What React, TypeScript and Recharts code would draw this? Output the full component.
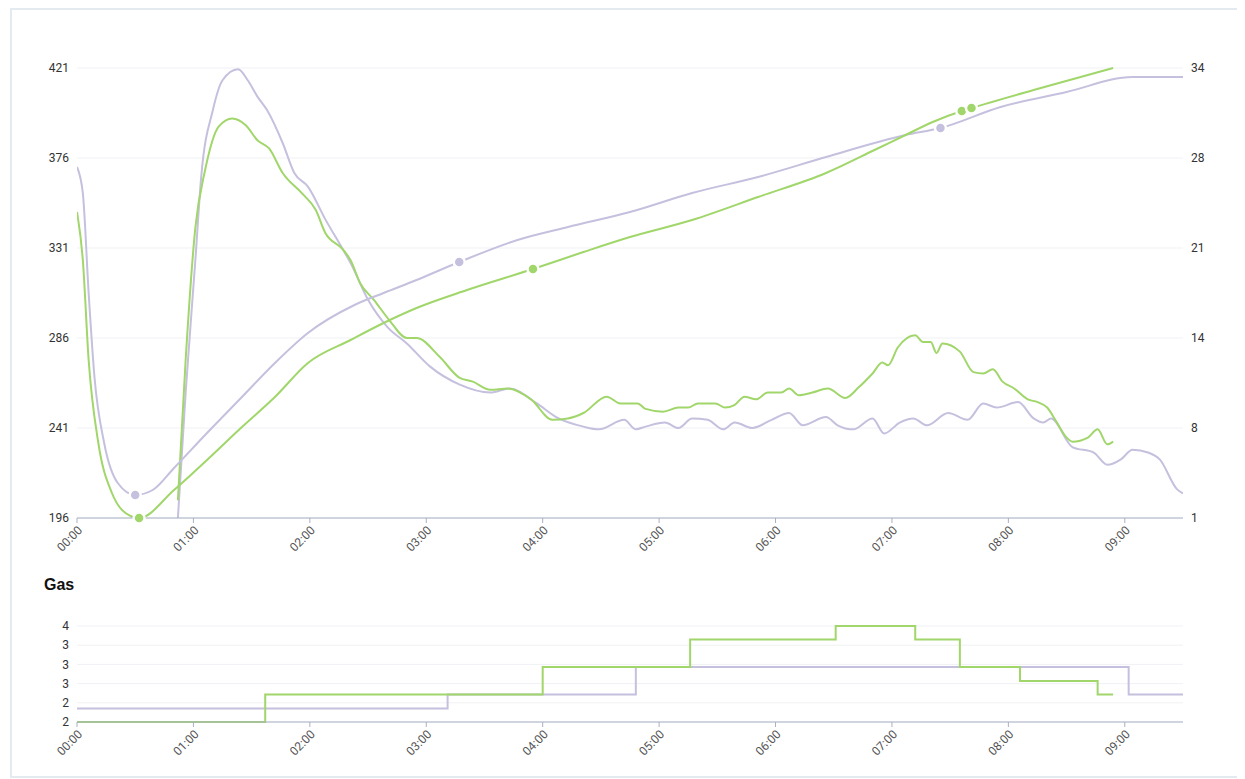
import React from "react";
import { LineChart, Line, XAxis, YAxis, CartesianGrid } from "recharts";

// time axis in minutes from 00:00
const xTicks = [0, 60, 120, 180, 240, 300, 360, 420, 480, 540];
const leftTicks = [196, 241, 286, 331, 376, 421];
const rightTicks = [1, 7.6, 14.2, 20.8, 27.4, 34];
const rightTickLabels = ["1", "8", "14", "21", "28", "34"];
const gasTicks = [2, 2.3, 2.6, 2.9, 3.2, 3.5];

// [minute, value] — left axis
const purpleRise = [
  [0, 371.5], [3, 358.5], [6, 308.5], [9, 266.5], [14, 233.5], [21, 213.5], [30, 207.5],
  [39, 210], [50, 221], [67, 238.5], [85, 256.5], [102, 273.5], [119, 288.5], [143, 302.5],
  [158, 308.5], [175, 315], [197, 324], [227, 335], [253, 341.5], [285, 349], [317, 358.5],
  [351, 366.5], [386, 376.5], [427, 387.5], [445, 391], [476, 401.5], [510, 409], [544, 416.5],
  [570, 416.5],
];
const greenRise = [
  [0, 349], [3, 325], [6, 275], [11, 233.5], [18, 208.5], [25, 198.5], [32, 196], [50, 210],
  [67, 225], [85, 241.5], [102, 256.5], [119, 273.5], [141, 285], [158, 293.5], [175, 301],
  [201, 310], [235, 320.5], [261, 329], [285, 336.5], [317, 345], [351, 356.5], [386, 368.5],
  [411, 380], [427, 387.5], [441, 394], [456, 399.5], [461, 401], [493, 410], [534, 421],
];
const purpleMarks = [30, 197, 445];
const greenMarks = [32, 235, 456, 461];

// [minute, value] — right axis
const purplePeak = [
  [52, 1], [56, 10.2], [61, 19.9], [64, 26], [70, 30.9], [75, 33.1], [83, 33.9], [88, 33.1],
  [93, 31.9], [98, 30.9], [106, 28.5], [112, 26.3], [119, 25.3], [128, 22.9], [137, 20.7],
  [141, 19.7], [150, 17], [160, 15], [170, 13.8], [182, 12.1], [197, 10.8], [213, 10.2],
  [223, 10.5], [237, 9.4], [247, 8.4], [261, 7.7], [269, 7.5], [282, 8.2], [288, 7.5],
  [293, 7.7], [303, 8.0], [310, 7.6], [317, 8.3], [325, 8.2], [333, 7.5], [339, 8.0],
  [348, 7.6], [358, 8.2], [367, 8.7], [374, 7.8], [386, 8.4], [392, 7.8], [400, 7.5],
  [410, 8.3], [416, 7.2], [424, 8.0], [431, 8.3], [438, 7.8], [449, 8.7], [459, 8.2],
  [467, 9.4], [474, 9.1], [485, 9.5], [493, 8.3], [498, 8.0], [502, 8.3], [513, 6.2],
  [524, 5.8], [531, 4.9], [538, 5.3], [544, 6.0], [552, 5.8], [558, 5.3], [567, 3.1], [570, 2.8],
];
const greenPeak = [
  [52, 2.3], [56, 12.6], [61, 22.3], [66, 26.5], [73, 29.7], [80, 30.3], [87, 29.8], [93, 28.7],
  [99, 28.1], [106, 26.3], [116, 24.8], [123, 23.6], [128, 21.9], [137, 20.7], [141, 19.9],
  [146, 18.2], [153, 17], [161, 15.5], [170, 14.2], [175, 14.2], [187, 12.8], [197, 11.3],
  [204, 11], [213, 10.4], [222, 10.5], [234, 9.7], [245, 8.2], [253, 8.3], [261, 8.7],
  [273, 9.9], [280, 9.4], [289, 9.4], [293, 9], [302, 8.8], [310, 9.1], [315, 9.1], [320, 9.4],
  [329, 9.4], [334, 9.1], [339, 9.3], [344, 9.9], [350, 9.7], [356, 10.2], [363, 10.2],
  [367, 10.5], [372, 10], [379, 10.2], [387, 10.5], [396, 9.8], [403, 10.6], [410, 11.6],
  [415, 12.4], [418, 12.2], [423, 13.5], [432, 14.4], [436, 13.9], [440, 13.9], [443, 13.1],
  [446, 13.8], [455, 13.2], [462, 11.7], [467, 11.6], [472, 11.9], [477, 11], [483, 10.5],
  [490, 9.7], [495, 9.5], [500, 9.1], [505, 8], [510, 6.9], [513, 6.6], [521, 6.9], [526, 7.5],
  [531, 6.4], [534, 6.6],
];

// Gas steps
const gasGreen = [
  [0, 2.0], [97, 2.43], [240, 2.86], [316, 3.29], [391, 3.5], [432, 3.29], [455, 2.86],
  [486, 2.64], [526, 2.43], [534, 2.43],
];
const gasPurple = [[0, 2.21], [191, 2.43], [288, 2.86], [542, 2.43], [570, 2.43]];

const PURPLE = "#c4c0de";
const GREEN = "#a0d66a";
const AXIS = "#a9b0c3";

const toPoints = (rows: number[][]) => rows.map(([t, v]) => ({ t, v }));

const fmtTime = (m: number) =>
  `${String(Math.floor(m / 60)).padStart(2, "0")}:${String(m % 60).padStart(2, "0")}`;

const markDot = (marks: number[], color: string) => (props: any) => {
  const { cx, cy, payload, index } = props;
  if (!marks.includes(payload.t)) return <g key={`d-${index}`} />;
  return <circle key={`d-${index}`} cx={cx} cy={cy} r={5.5} fill={color} stroke="#fff" strokeWidth={2.5} />;
};

const tickStyle = { fontSize: 12, fill: "#333", fontFamily: "Roboto, sans-serif" };
const xTickStyle = { fontSize: 12, fill: "#555", fontFamily: "Roboto, sans-serif" };

function TimeAxis() {
  return (
    <XAxis
      type="number"
      dataKey="t"
      domain={[0, 570]}
      ticks={xTicks}
      tickFormatter={fmtTime}
      interval={0}
      angle={-45}
      textAnchor="end"
      height={45}
      stroke={AXIS}
      tickSize={5}
      tick={xTickStyle}
      allowDataOverflow
    />
  );
}

export default function App() {
  return (
    <div
      style={{
        position: "relative",
        width: 1229,
        height: 770,
        marginLeft: 2,
        border: "2px solid #e3eaf0",
        boxSizing: "border-box",
        background: "#fff",
      }}
    >
      <div style={{ position: "absolute", left: 0, top: 0 }}>
        <LineChart width={1211} height={553} margin={{ top: 58, right: 0, left: 5, bottom: 0 }}>
          <CartesianGrid yAxisId="left" vertical={false} stroke="#f0f1f4" />
          {TimeAxis()}
          <YAxis
            yAxisId="left"
            domain={[196, 421]}
            ticks={leftTicks}
            interval={0}
            width={60}
            axisLine={false}
            tickLine={false}
            tick={tickStyle}
          />
          <YAxis
            yAxisId="right"
            orientation="right"
            domain={[1, 34]}
            ticks={rightTicks}
            interval={0}
            tickFormatter={(v: number, i: number) => rightTickLabels[i]}
            width={40}
            axisLine={false}
            tickLine={false}
            tick={tickStyle}
          />
          <Line yAxisId="right" data={toPoints(purplePeak)} dataKey="v" type="monotone" stroke={PURPLE} strokeWidth={2} dot={false} isAnimationActive={false} />
          <Line yAxisId="right" data={toPoints(greenPeak)} dataKey="v" type="monotone" stroke={GREEN} strokeWidth={2} dot={false} isAnimationActive={false} />
          <Line yAxisId="left" data={toPoints(purpleRise)} dataKey="v" type="monotone" stroke={PURPLE} strokeWidth={2} dot={markDot(purpleMarks, PURPLE)} isAnimationActive={false} />
          <Line yAxisId="left" data={toPoints(greenRise)} dataKey="v" type="monotone" stroke={GREEN} strokeWidth={2} dot={markDot(greenMarks, GREEN)} isAnimationActive={false} />
        </LineChart>
      </div>

      <div
        style={{
          position: "absolute",
          left: 32,
          top: 567,
          fontFamily: "'Liberation Sans', Arial, sans-serif",
          fontWeight: 700,
          fontSize: 16,
          lineHeight: "16px",
          color: "#111",
        }}
      >
        Gas
      </div>

      <div style={{ position: "absolute", left: 0, top: 550 }}>
        <LineChart width={1211} height={207} margin={{ top: 66, right: 40, left: 5, bottom: 0 }}>
          <CartesianGrid vertical={false} stroke="#f0f1f4" />
          {TimeAxis()}
          <YAxis
            domain={[2, 3.5]}
            ticks={gasTicks}
            interval={0}
            tickFormatter={(v: number) => String(Math.round(v))}
            width={60}
            axisLine={false}
            tickLine={false}
            tick={tickStyle}
          />
          <Line data={toPoints(gasPurple)} dataKey="v" type="stepAfter" stroke={PURPLE} strokeWidth={2} dot={false} isAnimationActive={false} />
          <Line data={toPoints(gasGreen)} dataKey="v" type="stepAfter" stroke={GREEN} strokeWidth={2} dot={false} isAnimationActive={false} />
        </LineChart>
      </div>
    </div>
  );
}
